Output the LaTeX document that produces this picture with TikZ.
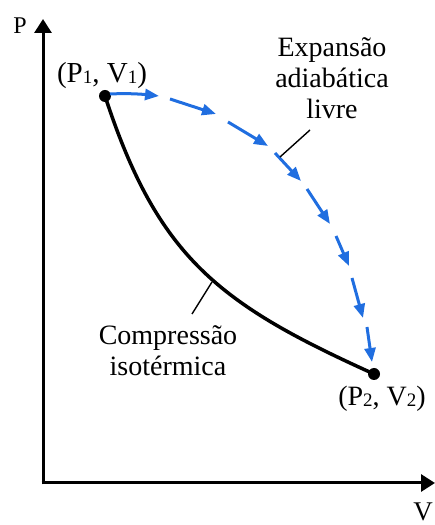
\documentclass[tikz,border=0pt]{standalone}
\usepackage{fontspec}
\setmainfont{Liberation Serif}
\usetikzlibrary{arrows.meta}
\definecolor{arrblue}{RGB}{32,110,224}
\newcommand{\sbd}[1]{\raisebox{-1pt}{\fontsize{19}{19}\selectfont #1}}
\begin{document}
\begin{tikzpicture}[x=1pt,y=1pt,
  lbl/.style={font=\fontsize{28}{31}\selectfont, inner sep=0pt, align=center},
  axislbl/.style={font=\fontsize{26}{26}\selectfont, inner sep=0pt},
  axisline/.style={line width=3pt, -{Triangle[length=14pt,width=17pt]}},
  dotnode/.style={circle, fill=black, inner sep=0pt, minimum size=12pt},
  leader/.style={line width=1.4pt, black},
  bluedash/.style={arrblue, line width=3pt, -{Triangle[length=14pt,width=11pt]}},
]
\useasboundingbox (0,0) rectangle (435,525);
% axes
\coordinate (o) at (43,42);
\coordinate (ytop) at (43,506);
\coordinate (xend) at (435,42);
\draw[axisline] ([yshift=-1.5pt]o) -- (ytop);
\draw[axisline] ([xshift=-1.5pt]o) -- (xend);
\node[axislbl, font=\fontsize{24}{24}\selectfont] (P) at (20,499) {P};
\node[axislbl, font=\fontsize{27}{27}\selectfont] (V) at (423,13) {V};
% points
\node[dotnode] (p1) at (105,429) {};
\node[dotnode] (p2) at (374,151) {};
\node[lbl, font=\fontsize{29}{31}\selectfont] (l1) at (102,449) {(P\sbd{1}, V\sbd{1})};
\node[lbl] (l2) at (382,126) {(P\sbd{2}, V\sbd{2})};
% isothermal compression
\draw[line width=3.5pt, black] (p1.center) .. controls (158,267) and (219,221) .. (p2.center);
% free adiabatic expansion (dashed, arrow on every dash)
\coordinate (a1) at (110,431); \coordinate (b1) at (159,429);
\coordinate (a2) at (170,426); \coordinate (b2) at (216,411);
\coordinate (a3) at (228,403); \coordinate (b3) at (268,379);
\coordinate (a4) at (275,372); \coordinate (b4) at (301,344);
\coordinate (a5) at (307,336); \coordinate (b5) at (330,301);
\coordinate (a6) at (336,289); \coordinate (b6) at (349,259);
\coordinate (a7) at (352,247); \coordinate (b7) at (363,207);
\coordinate (a8) at (367,198); \coordinate (b8) at (372,163);
\draw[bluedash] (a1) .. controls (130,432) and (145,430.5) .. (b1);
\draw[bluedash] (a2) -- (b2);
\draw[bluedash] (a3) -- (b3);
\draw[bluedash] (a4) -- (b4);
\draw[bluedash] (a5) -- (b5);
\draw[bluedash] (a6) -- (b6);
\draw[bluedash] (a7) -- (b7);
\draw[bluedash] (a8) -- (b8);
% labels with leader lines
\node[lbl] (exp) at (332,447) {Expansão\\adiabática\\livre};
\coordinate (e1) at (310,395);
\coordinate (e2) at (280,368);
\draw[leader] (e1) -- (e2);
\node[lbl] (comp) at (168,174) {Compressão\\isotérmica};
\coordinate (c1) at (212,243);
\coordinate (c2) at (192,211);
\draw[leader] (c1) -- (c2);
\end{tikzpicture}
\end{document}
